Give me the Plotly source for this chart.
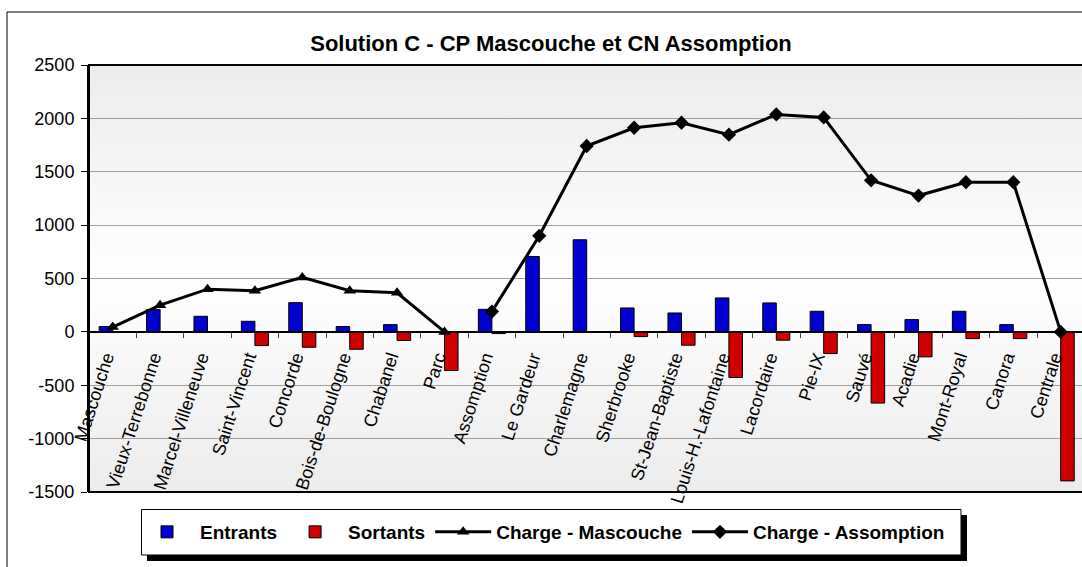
import base64
import plotly.graph_objects as go

# ---------------- data ----------------
categories = ["Mascouche", "Vieux-Terrebonne", "Marcel-Villeneuve", "Saint-Vincent",
              "Concorde", "Bois-de-Boulogne", "Chabanel", "Parc", "Assomption",
              "Le Gardeur", "Charlemagne", "Sherbrooke", "St-Jean-Baptiste",
              "Louis-H.-Lafontaine", "Lacordaire", "Pie-IX", "Sauvé", "Acadie",
              "Mont-Royal", "Canora", "Centrale"]
entrants = [50, 210, 146, 99, 274, 50, 68, 0, 211, 706, 863, 224, 177, 318, 271,
            193, 68, 115, 193, 68, 0]
sortants = [0, 0, 0, -128, -144, -163, -81, -362, -16, 0, 0, -44, -125, -427, -78,
            -203, -667, -234, -63, -63, -1396]
charge_mascouche = [45, 250, 400, 386, 510, 386, 366, 0,
                    None, None, None, None, None, None, None, None, None, None,
                    None, None, None]
charge_assomption = [None, None, None, None, None, None, None, None,
                     190, 900, 1741, 1912, 1959, 1847, 2037, 2009, 1420, 1277,
                     1402, 1402, 0]
y_ticks = [-1500, -1000, -500, 0, 500, 1000, 1500, 2000, 2500]

TITLE = "Solution C - CP Mascouche et CN Assomption"
FONT = "Arial, 'Liberation Sans', sans-serif"

# ---------------- layout geometry (pixels) ----------------
W, H = 1082, 567
ML, MT, MB, MR = 89, 65, 75, 0
PW = W - ML - MR
PH = H - MT - MB
CAT_W = 47.4  # pixel width of one category in the reference


def px_x(p):
    return (p - ML) / PW


def px_y(p):
    return (H - MB - p) / PH


x_upper = -0.5 + PW / CAT_W

fig = go.Figure()
fig.add_trace(go.Bar(x=categories, y=entrants, name="Entrants",
                     marker=dict(color="#0000D0", line=dict(color="black", width=1))))
fig.add_trace(go.Bar(x=categories, y=sortants, name="Sortants",
                     marker=dict(color="#D00000", line=dict(color="black", width=1))))
fig.add_trace(go.Scatter(x=categories, y=charge_mascouche, name="Charge - Mascouche",
                         mode="lines+markers", connectgaps=False,
                         line=dict(color="black", width=3),
                         marker=dict(symbol="triangle-up", size=11, color="black")))
fig.add_trace(go.Scatter(x=categories, y=charge_assomption, name="Charge - Assomption",
                         mode="lines+markers", connectgaps=False,
                         line=dict(color="black", width=3),
                         marker=dict(symbol="diamond", size=11, color="black")))

svg = ('<svg xmlns="http://www.w3.org/2000/svg" width="100" height="100" '
       'viewBox="0 0 100 100" preserveAspectRatio="none"><defs>'
       '<linearGradient id="g" x1="0" y1="0" x2="0" y2="1">'
       '<stop offset="0" stop-color="#ECECEC"/>'
       '<stop offset="0.5" stop-color="#FFFFFF"/>'
       '<stop offset="1" stop-color="#ECECEC"/>'
       '</linearGradient></defs>'
       '<rect width="100" height="100" fill="url(#g)"/></svg>')
bg_src = "data:image/svg+xml;base64," + base64.b64encode(svg.encode()).decode()

zero_pos = (0 - y_ticks[0]) / (y_ticks[-1] - y_ticks[0])

shapes = [
    # outer chart border (extends beyond the visible area like the reference)
    dict(type="rect", xref="paper", yref="paper", layer="below",
         x0=px_x(7), x1=px_x(1120), y0=px_y(600), y1=px_y(12),
         line=dict(color="black", width=1), fillcolor="rgba(0,0,0,0)"),
    # plot-area frame
    dict(type="rect", xref="paper", yref="paper", layer="above",
         x0=0, x1=1.02, y0=0, y1=1,
         line=dict(color="black", width=2), fillcolor="rgba(0,0,0,0)"),
    # legend shadow
    dict(type="rect", xref="paper", yref="paper", layer="above",
         x0=px_x(147), x1=px_x(967), y0=px_y(561), y1=px_y(515),
         line=dict(width=0), fillcolor="black"),
    # legend box
    dict(type="rect", xref="paper", yref="paper", layer="above",
         x0=px_x(141.5), x1=px_x(961), y0=px_y(555), y1=px_y(509.5),
         line=dict(color="black", width=1), fillcolor="white"),
]

fig.update_layout(
    width=W, height=H,
    margin=dict(l=ML, r=MR, t=MT, b=MB, autoexpand=False),
    paper_bgcolor="white",
    plot_bgcolor="rgba(0,0,0,0)",
    font=dict(family=FONT, color="black", size=18),
    title=dict(text="<b>" + TITLE + "</b>", font=dict(size=22, family=FONT, color="black"),
               xref="container", yref="container", x=551 / W, y=1 - 43 / H,
               xanchor="center", yanchor="middle"),
    barmode="group", bargap=0.4286, bargroupgap=0,
    showlegend=True,
    legend=dict(orientation="h", xref="container", yref="container",
                x=134 / W, y=1 - 532 / H, xanchor="left", yanchor="middle",
                bgcolor="rgba(0,0,0,0)", borderwidth=0, itemwidth=56,
                font=dict(size=19, family=FONT, color="black", weight="bold"),
                traceorder="normal"),
    xaxis=dict(type="category", range=[-0.5, x_upper], anchor="free", position=zero_pos,
               showline=True, linecolor="black", linewidth=2,
               ticks="outside", ticklen=5, tickcolor="#404040", tickson="boundaries",
               tickangle=-72, tickfont=dict(size=18, family=FONT, color="black"),
               ticklabelshift=-7, ticklabelstandoff=7,
               showgrid=False, zeroline=False, automargin=False),
    yaxis=dict(range=[y_ticks[0], y_ticks[-1]], tickmode="array", tickvals=y_ticks,
               ticktext=[str(v) for v in y_ticks],
               showline=True, linecolor="black", linewidth=2,
               ticks="outside", ticklen=6, tickcolor="black", ticklabelstandoff=3,
               showgrid=True, gridcolor="#A0A0A0", gridwidth=1,
               zeroline=False, automargin=False,
               tickfont=dict(size=18, family=FONT, color="black")),
    images=[dict(source=bg_src, xref="paper", yref="paper", x=0, y=1,
                 sizex=1, sizey=1, sizing="stretch", xanchor="left", yanchor="top",
                 layer="below")],
    shapes=shapes,
)

fig.write_html("out.html",
               config={"displayModeBar": False},
               post_script="document.body.style.margin='0';"
                           "document.documentElement.style.overflow='hidden';"
                           "document.body.style.overflow='hidden';")
